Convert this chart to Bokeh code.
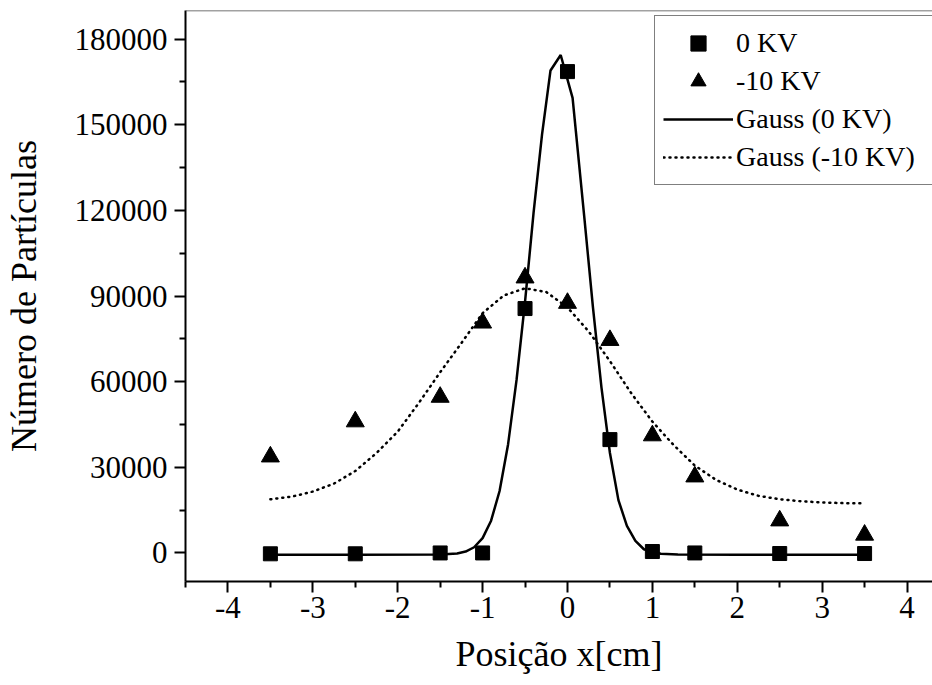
from bokeh.plotting import figure
from bokeh.models import Range1d, FixedTicker, BasicTickFormatter, Legend, LegendItem, Span
from bokeh.embed import file_html
from bokeh.resources import INLINE

# ---- data ----
pos = [-3.5, -2.5, -1.5, -1.0, -0.5, 0.0, 0.5, 1.0, 1.5, 2.5, 3.5]
n_0kv = [-300, -300, 0, 0, 85600, 168600, 39700, 500, 0, -200, -200]
n_m10kv = [33700, 46000, 54600, 80600, 96400, 87500, 74500, 41100, 26700, 11300, 6300]

fit0_x = [-3.5, -2.5, -1.5, -1.3, -1.2, -1.1, -1.0, -0.9, -0.8, -0.7, -0.6, -0.5, -0.4,
          -0.3, -0.2, -0.08, 0.06, 0.1, 0.2, 0.3, 0.4, 0.5, 0.6, 0.7, 0.8, 0.9, 1.0,
          1.1, 1.3, 2.0, 3.0, 3.5]
fit0_y = [-600, -600, -550, -190, 490, 2000, 5200, 11300, 21700, 38000, 60600, 88000, 119000,
          146500, 169000, 174400, 159400, 147300, 117000, 86000, 58000, 35000, 18500, 9500,
          4200, 1300, 300, -300, -550, -600, -600, -600]

fit10_x = [-3.5, -3.25, -3.0, -2.75, -2.5, -2.25, -2.0, -1.75, -1.5, -1.25, -1.0, -0.75,
           -0.5, -0.25, 0.0, 0.25, 0.5, 0.75, 1.0, 1.25, 1.5, 1.75, 2.0, 2.25, 2.5, 2.75,
           3.0, 3.25, 3.5]
fit10_y = [18800, 19700, 21500, 24300, 28700, 35000, 42500, 52600, 63300, 73500, 84000, 90200,
           92700, 91400, 86000, 77600, 67200, 56000, 46000, 37800, 30600, 25600, 22200, 20000,
           18800, 18100, 17700, 17450, 17380]

x_ticks = [-4, -3, -2, -1, 0, 1, 2, 3, 4]
x_labels = ["-4", "-3", "-2", "-1", "0", "1", "2", "3", "4"]
x_minor = [-4.5, -3.5, -2.5, -1.5, -0.5, 0.5, 1.5, 2.5, 3.5]
y_ticks = [0, 30000, 60000, 90000, 120000, 150000, 180000]
y_minor = [15000, 45000, 75000, 105000, 135000, 165000]

FONT = "Liberation Serif"

p = figure(width=932, height=685, output_backend="svg", toolbar_location=None,
           x_range=Range1d(-4.5, 4.3), y_range=Range1d(-10000, 190000),
           min_border_left=184, min_border_right=0, min_border_top=10, min_border_bottom=104)
p.grid.visible = False
p.outline_line_color = None
p.background_fill_color = "white"
p.border_fill_color = "white"

p.add_layout(Span(location=190000, dimension="width", line_color="#444444", line_width=1.5))

r_fit0 = p.line(fit0_x, fit0_y, line_color="black", line_width=2.5)
r_fit10 = p.line(fit10_x, fit10_y, line_color="black", line_width=2.5,
                 line_dash="1 5", line_cap="round")
r_sq = p.scatter(pos, n_0kv, marker="square", size=14, fill_color="black", line_color="black")
r_tr = p.scatter(pos, n_m10kv, marker="triangle", size=18, fill_color="black", line_color="black")

for ax, ticks, minors in ((p.xaxis[0], x_ticks, x_minor), (p.yaxis[0], y_ticks, y_minor)):
    ax.ticker = FixedTicker(ticks=ticks, minor_ticks=minors)
    ax.axis_line_width = 2
    ax.axis_line_color = "black"
    ax.major_tick_line_width = 2
    ax.minor_tick_line_width = 2
    ax.major_tick_out = 11
    ax.major_tick_in = 0
    ax.minor_tick_out = 6
    ax.minor_tick_in = 0
    ax.major_label_text_font = FONT
    ax.major_label_text_font_size = "31px"
    ax.major_label_text_color = "black"
    ax.axis_label_text_font = FONT
    ax.axis_label_text_font_size = "36px"
    ax.axis_label_text_font_style = "normal"
    ax.axis_label_text_color = "black"

p.yaxis[0].formatter = BasicTickFormatter(use_scientific=False)
p.xaxis[0].major_label_overrides = dict(zip(x_ticks, x_labels))
p.xaxis[0].axis_label = "Posição x[cm]"
p.yaxis[0].axis_label = "Número de Partículas"
p.xaxis[0].major_label_standoff = 4
p.yaxis[0].major_label_standoff = 7
p.xaxis[0].axis_label_standoff = 13
p.yaxis[0].axis_label_standoff = 28

legend = Legend(items=[
    LegendItem(label="0 KV", renderers=[r_sq]),
    LegendItem(label="-10 KV", renderers=[r_tr]),
    LegendItem(label="Gauss (0 KV)", renderers=[r_fit0]),
    LegendItem(label="Gauss (-10 KV)", renderers=[r_fit10]),
], location=(469, 396))
legend.label_text_font = FONT
legend.label_text_font_size = "28px"
legend.label_text_color = "black"
legend.glyph_width = 70
legend.glyph_height = 38
legend.label_height = 38
legend.label_width = 200
legend.label_standoff = 3
legend.spacing = 0
legend.padding = 8
legend.margin = 0
legend.border_line_color = "black"
legend.border_line_width = 1.5
legend.background_fill_alpha = 1
p.add_layout(legend)

open("out.html", "w").write(file_html(p, INLINE))
